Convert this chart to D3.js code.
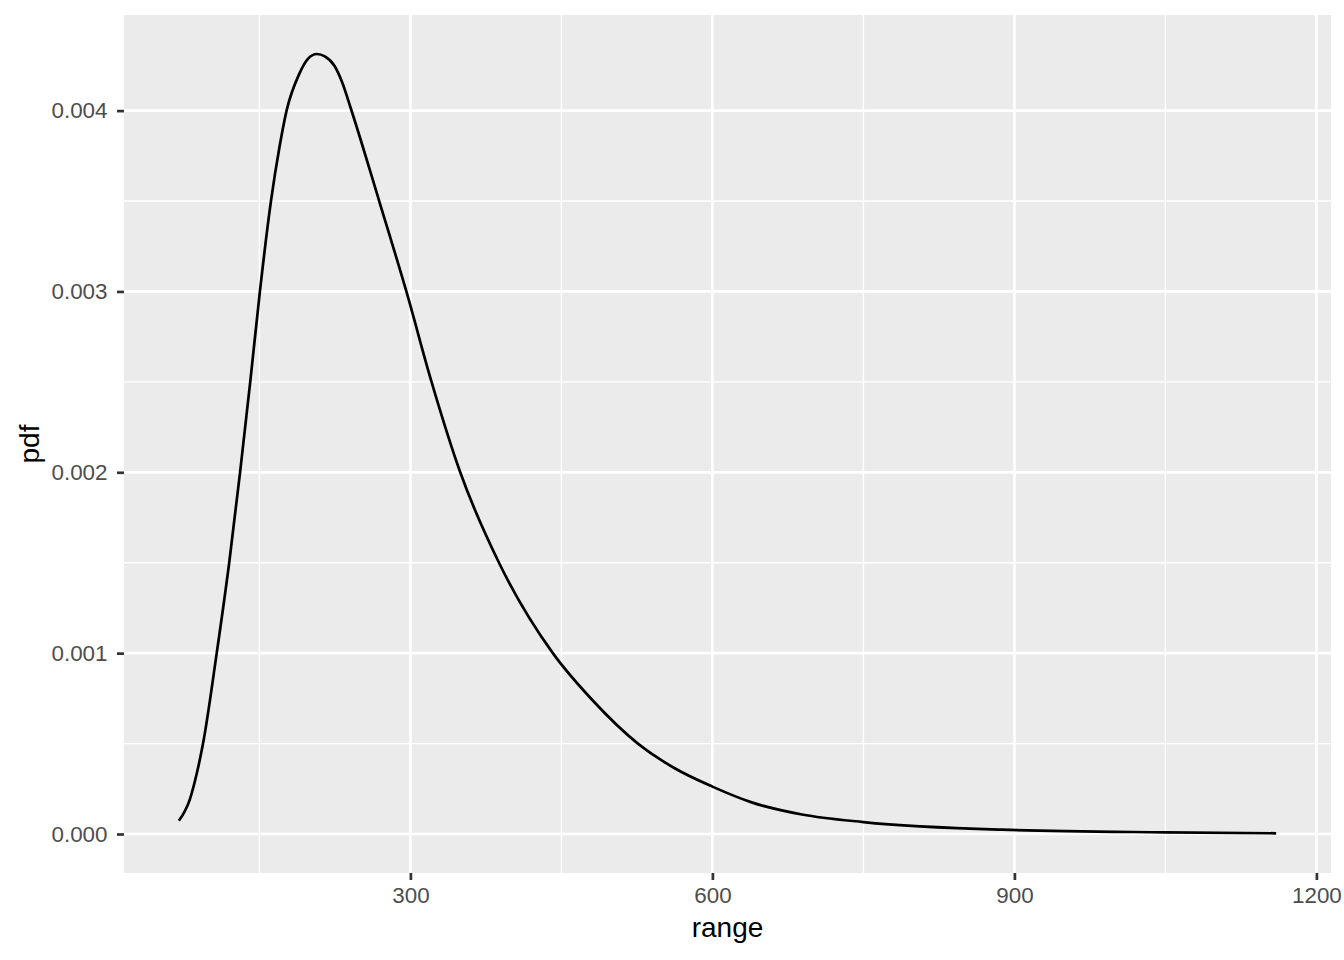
<!DOCTYPE html>
<html><head><meta charset="utf-8">
<script src="https://cdn.jsdelivr.net/npm/d3@7"></script>
<style>body{margin:0;background:#fff}svg{display:block}text{font-family:"Liberation Sans",Arial,sans-serif}</style>
</head><body>
<svg id="c" width="1344" height="960"></svg>
<script>
const range = [70, 81, 88, 94, 107.6, 120, 130.8, 140.9, 150.5, 161.5, 170, 177, 189.5, 198, 207, 215, 224.5, 232, 241, 269, 296, 321, 349.5, 388, 441.5, 480, 526, 563, 600, 639, 689, 750, 888, 1050, 1160];
const pdf = [0.000073, 0.000193, 0.00034, 0.0005, 0.001, 0.0015, 0.002, 0.0025, 0.003, 0.0035, 0.0038, 0.004, 0.004202, 0.004285, 0.004313, 0.004300, 0.004248, 0.00416, 0.004009, 0.0035, 0.003, 0.0025, 0.002, 0.0015, 0.001, 0.000745, 0.0005, 0.000362, 0.000262, 0.000175, 0.000108, 0.000066, 0.0000237, 0.0000092, 0.000004];
const xTicks = [300, 600, 900, 1200];
const xMinor = [150, 450, 750, 1050];
const yTicks = [0, 0.001, 0.002, 0.003, 0.004];
const yMinor = [0.0005, 0.0015, 0.0025, 0.0035];

const svg = d3.select("#c");
const L = 124, R = 1331, T = 15, B = 873;
const xr = d3.extent(range), yr = [0, d3.max(pdf)];
const xe = (xr[1]-xr[0])*0.05, ye = (yr[1]-yr[0])*0.05;
const x = d3.scaleLinear().domain([xr[0]-xe, xr[1]+xe]).range([L, R]);
const y = d3.scaleLinear().domain([yr[0]-ye, yr[1]+ye]).range([B, T]);

svg.append("rect").attr("x", L).attr("y", T).attr("width", R-L).attr("height", B-T).attr("fill", "#EBEBEB");
const g = svg.append("g");
g.selectAll(".ymin").data(yMinor).join("line").attr("x1", L).attr("x2", R).attr("y1", d=>y(d)).attr("y2", d=>y(d)).attr("stroke", "#fff").attr("stroke-width", 1.4);
g.selectAll(".xmin").data(xMinor).join("line").attr("y1", T).attr("y2", B).attr("x1", d=>x(d)).attr("x2", d=>x(d)).attr("stroke", "#fff").attr("stroke-width", 1.4);
g.selectAll(".ymaj").data(yTicks).join("line").attr("x1", L).attr("x2", R).attr("y1", d=>y(d)).attr("y2", d=>y(d)).attr("stroke", "#fff").attr("stroke-width", 2.7);
g.selectAll(".xmaj").data(xTicks).join("line").attr("y1", T).attr("y2", B).attr("x1", d=>x(d)).attr("x2", d=>x(d)).attr("stroke", "#fff").attr("stroke-width", 2.7);

const data = range.map((r, i) => ({r, p: pdf[i]}));
svg.append("path").datum(data)
  .attr("d", d3.line().x(d=>x(d.r)).y(d=>y(d.p)).curve(d3.curveMonotoneX))
  .attr("fill", "none").attr("stroke", "#000").attr("stroke-width", 2.7);

const xAxis = d3.axisBottom(x).tickValues(xTicks).tickSize(7).tickPadding(7).tickFormat(d3.format("d"));
const xg = svg.append("g").attr("transform", `translate(0,${B})`).call(xAxis);
const yAxis = d3.axisLeft(y).tickValues(yTicks).tickSize(7).tickPadding(9.5).tickFormat(d3.format(".3f"));
const yg = svg.append("g").attr("transform", `translate(${L},0)`).call(yAxis);
[xg, yg].forEach(a => {
  a.select(".domain").remove();
  a.selectAll(".tick line").attr("stroke", "#333").attr("stroke-width", 2.7);
  a.selectAll(".tick text").attr("fill", "#4D4D4D").style("font-size", "22.4px").style("font-family", '"Liberation Sans",Arial,sans-serif');
});

svg.append("text").attr("x", (L+R)/2).attr("y", 937).attr("text-anchor", "middle").style("font-size", "28px").attr("fill", "#000").text("range");
svg.append("text").attr("transform", `translate(39,${(T+B)/2}) rotate(-90)`).attr("text-anchor", "middle").style("font-size", "28px").attr("fill", "#000").text("pdf");
</script>
</body></html>
